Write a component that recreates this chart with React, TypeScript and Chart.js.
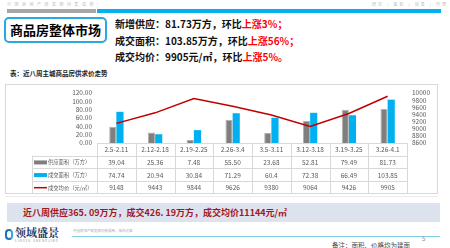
import React, { useEffect, useRef } from "react";
import { Chart, registerables } from "chart.js";

Chart.register(...registerables);

const categories = ["2.5-2.11", "2.12-2.18", "2.19-2.25", "2.26-3.4", "3.5-3.11", "3.12-3.18", "3.19-3.25", "3.26-4.1"];
const supplyArea = [39.04, 25.36, 7.48, 55.5, 23.68, 52.81, 79.49, 81.73];
const dealArea = [74.74, 20.94, 30.84, 71.29, 60.4, 72.38, 66.49, 103.85];
const avgPrice = [9148, 9443, 9844, 9626, 9380, 9064, 9426, 9905];
const supplyLabels = ["39.04", "25.36", "7.48", "55.50", "23.68", "52.81", "79.49", "81.73"];
const dealLabels = ["74.74", "20.94", "30.84", "71.29", "60.4", "72.38", "66.49", "103.85"];
const priceLabels = ["9148", "9443", "9844", "9626", "9380", "9064", "9426", "9905"];
const seriesNames = ["供应面积（万方）", "成交面积（万方）", "成交均价（元/㎡）"];

const FONT = "'Noto Sans CJK SC', 'Noto Sans', sans-serif";
const GRAY = "#7f7f7f";
const BLUE = "#00b0f0";
const RED = "#c00000";

const tablePlugin = {
  id: "dataTable",
  afterDraw(chart: any) {
    const { ctx, chartArea } = chart;
    const left = chartArea.left;
    const right = chartArea.right;
    const n = categories.length;
    const colW = (right - left) / n;
    const top = chartArea.bottom;
    const bottom = chart.height - 0.5;
    const rowH = (bottom - top) / 4;
    const legendLeft = 27.5;
    ctx.save();
    ctx.strokeStyle = "#d9d9d9";
    ctx.lineWidth = 1;
    ctx.strokeRect(0.5, 0.5, chart.width - 1, chart.height - 1);
    for (let r = 0; r <= 4; r++) {
      const y = Math.round(top + r * rowH) + 0.5;
      const x0 = r >= 1 ? legendLeft : left;
      ctx.beginPath();
      ctx.moveTo(x0, y);
      ctx.lineTo(right, y);
      ctx.stroke();
    }
    for (let c = 0; c <= n; c++) {
      const x = Math.round(left + c * colW) + 0.5;
      ctx.beginPath();
      ctx.moveTo(x, top);
      ctx.lineTo(x, bottom);
      ctx.stroke();
    }
    ctx.beginPath();
    ctx.moveTo(legendLeft, top + rowH);
    ctx.lineTo(legendLeft, bottom);
    ctx.stroke();

    ctx.fillStyle = "#595959";
    ctx.textAlign = "center";
    ctx.textBaseline = "middle";
    ctx.font = `6.5px ${FONT}`;
    const rows = [categories, supplyLabels, dealLabels, priceLabels];
    rows.forEach((row, r) => {
      const cy = top + r * rowH + rowH / 2 + 0.5;
      row.forEach((t, i) => {
        ctx.fillText(t, left + colW * i + colW / 2, cy);
      });
    });
    ctx.textAlign = "left";
    ctx.font = `5.3px ${FONT}`;
    const colors = [GRAY, BLUE, RED];
    seriesNames.forEach((name, i) => {
      const cy = top + (i + 1) * rowH + rowH / 2 + 0.5;
      ctx.fillStyle = colors[i];
      if (i < 2) {
        ctx.fillRect(29, cy - 2, 13, 4);
      } else {
        ctx.fillRect(29, cy - 0.75, 13, 1.5);
      }
      ctx.fillStyle = "#595959";
      ctx.fillText(name, 43, cy);
    });
    ctx.restore();
  },
};

function ChartBox() {
  const ref = useRef<HTMLCanvasElement | null>(null);
  useEffect(() => {
    if (!ref.current) return;
    const chart = new Chart(ref.current, {
      type: "bar",
      data: {
        labels: categories,
        datasets: [
          {
            type: "line",
            label: seriesNames[2],
            data: avgPrice,
            yAxisID: "y1",
            borderColor: RED,
            backgroundColor: RED,
            borderWidth: 1.5,
            pointRadius: 0,
            tension: 0,
            order: 0,
          } as any,
          {
            label: seriesNames[0],
            data: supplyArea,
            yAxisID: "y",
            backgroundColor: GRAY,
            borderColor: "#b0b0b0",
            borderWidth: 1,
            categoryPercentage: 0.37,
            barPercentage: 1,
            order: 1,
          },
          {
            label: seriesNames[1],
            data: dealArea,
            yAxisID: "y",
            backgroundColor: BLUE,
            borderWidth: 0,
            categoryPercentage: 0.37,
            barPercentage: 1,
            order: 1,
          },
        ],
      },
      options: {
        responsive: false,
        animation: false,
        layout: { padding: { left: 0, right: 0, top: 5, bottom: 51 } },
        plugins: { legend: { display: false }, tooltip: { enabled: false } },
        scales: {
          x: { display: false, offset: true },
          y: {
            position: "left",
            min: 0,
            max: 120,
            border: { display: false },
            grid: { display: false, drawTicks: false },
            ticks: {
              stepSize: 20,
              autoSkip: false,
              padding: 5,
              color: "#595959",
              font: { size: 6.5, family: FONT },
              callback: (v: any) => Number(v).toFixed(2),
            },
            afterFit: (s: any) => {
              s.width = 92;
            },
          },
          y1: {
            position: "right",
            min: 8600,
            max: 10000,
            border: { display: false },
            grid: { display: false, drawTicks: false },
            ticks: {
              stepSize: 200,
              autoSkip: false,
              padding: 5,
              color: "#595959",
              font: { size: 6.5, family: FONT },
              callback: (v: any) => String(v),
            },
            afterFit: (s: any) => {
              s.width = 31;
            },
          },
        },
      },
      plugins: [tablePlugin],
    });
    return () => chart.destroy();
  }, []);
  return <canvas ref={ref} width={433} height={110} style={{ position: "absolute", left: 5, top: 84, width: 433, height: 110 }} />;
}

export default function App() {
  const abs = (s: any): any => ({ position: "absolute", ...s });
  const red = { color: "#ff0000" };
  const lineStyle = { fontSize: 10, fontWeight: 700, lineHeight: "14px", color: "#111", whiteSpace: "nowrap" as const, left: 115 };
  return (
    <div style={{ position: "absolute", left: 0, top: 0, width: 450, height: 248, background: "#fff", fontFamily: FONT, overflow: "hidden" }}>
      <div style={abs({ left: 7, top: 1, fontSize: 4, color: "#bbb", letterSpacing: 3.5, whiteSpace: "nowrap", lineHeight: "6px" })}>中国房地产研发顾问集成商</div>
      <div style={abs({ left: 372, top: 1, fontSize: 4, color: "#bbb", letterSpacing: 2, whiteSpace: "nowrap", lineHeight: "6px" })}>研究 / 策划 / 销售 / 代理</div>
      <div style={abs({ left: 7, top: 9, width: 89, height: 4, background: "#a6a6a6" })} />
      <div style={abs({ left: 97, top: 9, width: 344, height: 4, background: "#00b0f0" })} />
      <div
        style={abs({
          left: 4,
          top: 17,
          width: 103,
          height: 26,
          boxSizing: "border-box",
          border: "2px solid #2aa8e2",
          borderRadius: 5,
          background: "#fff",
          textAlign: "center",
          lineHeight: "22px",
          fontSize: 13,
          fontWeight: 700,
          color: "#000",
        })}
      >
        商品房整体市场
      </div>
      <div style={abs({ ...lineStyle, top: 17 })}>
        新增供应：81.73万方，环比<span style={red}>上涨3%；</span>
      </div>
      <div style={abs({ ...lineStyle, top: 34 })}>
        成交面积：103.85万方，环比<span style={red}>上涨56%；</span>
      </div>
      <div style={abs({ ...lineStyle, top: 50 })}>
        成交均价：9905元/㎡，环比<span style={red}>上涨5%。</span>
      </div>
      <div style={abs({ left: 10, top: 69, fontSize: 6.5, fontWeight: 700, color: "#222", whiteSpace: "nowrap", lineHeight: "8px" })}>表：近八周主城商品房供求价走势</div>
      <ChartBox />
      <div style={abs({ left: 5, top: 196, width: 433, height: 1, background: "#ececec" })} />
      <div style={abs({ left: 7, top: 203, width: 433, height: 19, background: "#dde3ee" })} />
      <div style={abs({ left: 23, top: 204, fontSize: 9, fontWeight: 700, color: "#a3161c", whiteSpace: "nowrap", lineHeight: "17px" })}>
        近八周供应365. 09万方，成交426. 19万方，成交均价11144元/㎡
      </div>
      <div style={abs({ left: 5, top: 229, width: 8, height: 11, borderRadius: 4, border: "2px solid #1f75b8", boxSizing: "border-box", borderRightColor: "#35a8e0" })} />
      <div style={abs({ left: 15, top: 226, fontSize: 11, fontWeight: 700, color: "#1f3864", whiteSpace: "nowrap", lineHeight: "13px", fontFamily: "'Noto Serif CJK SC', 'Noto Sans CJK SC', serif" })}>领域盛景</div>
      <div style={abs({ left: 15, top: 239, fontSize: 3, color: "#888", letterSpacing: 1, whiteSpace: "nowrap", lineHeight: "4px" })}>LINGYU SHENGJING</div>
      <div style={abs({ left: 72, top: 236, width: 368, height: 1, background: "#7fcfe6" })} />
      <div style={abs({ left: 73, top: 228, fontSize: 3.5, color: "#aaa", whiteSpace: "nowrap", lineHeight: "5px" })}>中国房地产研发顾问集成商，城市运营</div>
      <div style={abs({ left: 422, top: 235, fontSize: 6, color: "#888", lineHeight: "8px" })}>5</div>
      <div style={abs({ left: 332, top: 241, fontSize: 6.5, color: "#444", whiteSpace: "nowrap", lineHeight: "8px" })}>备注：面积、价格均为建面</div>
    </div>
  );
}
